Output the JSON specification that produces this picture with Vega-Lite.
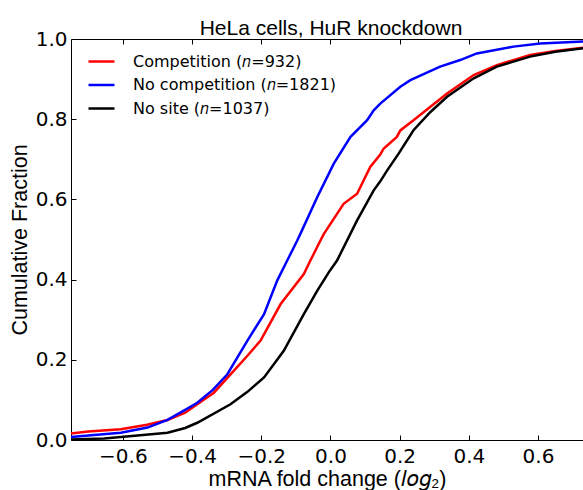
{
  "$schema": "https://vega.github.io/schema/vega-lite/v6.json",
  "width": 512,
  "height": 401,
  "autosize": {"type": "none"},
  "padding": {"left": 71, "top": 39, "right": 0, "bottom": 50},
  "background": "white",
  "title": {"text": "HeLa cells, HuR knockdown", "font": "Liberation Sans", "fontSize": 21, "fontWeight": "normal", "color": "black", "offset": -10, "dx": 4},
  "config": {
    "view": {"stroke": null},
    "axis": {
      "grid": false, "domainColor": "black", "domainWidth": 1, "tickColor": "black", "tickWidth": 1, "tickSize": -5,
      "labelFont": "DejaVu Sans", "labelFontSize": 20, "labelColor": "black",
      "titleFont": "Liberation Sans", "titleFontSize": 21.5, "titleFontWeight": "normal", "titleColor": "black"
    }
  },
  "data": {"values": [
    {"x": -0.75, "y": 0.016, "s": "Competition (𝑛=932)"},
    {"x": -0.70, "y": 0.021, "s": "Competition (𝑛=932)"},
    {"x": -0.606, "y": 0.027, "s": "Competition (𝑛=932)"},
    {"x": -0.53, "y": 0.038, "s": "Competition (𝑛=932)"},
    {"x": -0.471, "y": 0.05, "s": "Competition (𝑛=932)"},
    {"x": -0.42, "y": 0.068, "s": "Competition (𝑛=932)"},
    {"x": -0.385, "y": 0.089, "s": "Competition (𝑛=932)"},
    {"x": -0.337, "y": 0.118, "s": "Competition (𝑛=932)"},
    {"x": -0.279, "y": 0.173, "s": "Competition (𝑛=932)"},
    {"x": -0.24, "y": 0.21, "s": "Competition (𝑛=932)"},
    {"x": -0.202, "y": 0.248, "s": "Competition (𝑛=932)"},
    {"x": -0.144, "y": 0.339, "s": "Competition (𝑛=932)"},
    {"x": -0.077, "y": 0.414, "s": "Competition (𝑛=932)"},
    {"x": -0.058, "y": 0.4475, "s": "Competition (𝑛=932)"},
    {"x": -0.029, "y": 0.4975, "s": "Competition (𝑛=932)"},
    {"x": -0.019, "y": 0.514, "s": "Competition (𝑛=932)"},
    {"x": 0.038, "y": 0.589, "s": "Competition (𝑛=932)"},
    {"x": 0.077, "y": 0.614, "s": "Competition (𝑛=932)"},
    {"x": 0.115, "y": 0.681, "s": "Competition (𝑛=932)"},
    {"x": 0.144, "y": 0.712, "s": "Competition (𝑛=932)"},
    {"x": 0.154, "y": 0.727, "s": "Competition (𝑛=932)"},
    {"x": 0.192, "y": 0.756, "s": "Competition (𝑛=932)"},
    {"x": 0.202, "y": 0.772, "s": "Competition (𝑛=932)"},
    {"x": 0.24, "y": 0.7975, "s": "Competition (𝑛=932)"},
    {"x": 0.289, "y": 0.831, "s": "Competition (𝑛=932)"},
    {"x": 0.337, "y": 0.864, "s": "Competition (𝑛=932)"},
    {"x": 0.414, "y": 0.91, "s": "Competition (𝑛=932)"},
    {"x": 0.481, "y": 0.935, "s": "Competition (𝑛=932)"},
    {"x": 0.577, "y": 0.96, "s": "Competition (𝑛=932)"},
    {"x": 0.65, "y": 0.97, "s": "Competition (𝑛=932)"},
    {"x": 0.73, "y": 0.978, "s": "Competition (𝑛=932)"},
    {"x": -0.75, "y": 0.0075, "s": "No competition (𝑛=1821)"},
    {"x": -0.70, "y": 0.011, "s": "No competition (𝑛=1821)"},
    {"x": -0.606, "y": 0.018, "s": "No competition (𝑛=1821)"},
    {"x": -0.529, "y": 0.031, "s": "No competition (𝑛=1821)"},
    {"x": -0.471, "y": 0.05, "s": "No competition (𝑛=1821)"},
    {"x": -0.42, "y": 0.075, "s": "No competition (𝑛=1821)"},
    {"x": -0.385, "y": 0.093, "s": "No competition (𝑛=1821)"},
    {"x": -0.34, "y": 0.125, "s": "No competition (𝑛=1821)"},
    {"x": -0.298, "y": 0.164, "s": "No competition (𝑛=1821)"},
    {"x": -0.24, "y": 0.248, "s": "No competition (𝑛=1821)"},
    {"x": -0.192, "y": 0.314, "s": "No competition (𝑛=1821)"},
    {"x": -0.154, "y": 0.3975, "s": "No competition (𝑛=1821)"},
    {"x": -0.125, "y": 0.4475, "s": "No competition (𝑛=1821)"},
    {"x": -0.096, "y": 0.4975, "s": "No competition (𝑛=1821)"},
    {"x": -0.087, "y": 0.514, "s": "No competition (𝑛=1821)"},
    {"x": -0.038, "y": 0.606, "s": "No competition (𝑛=1821)"},
    {"x": 0.0096, "y": 0.689, "s": "No competition (𝑛=1821)"},
    {"x": 0.058, "y": 0.756, "s": "No competition (𝑛=1821)"},
    {"x": 0.106, "y": 0.7975, "s": "No competition (𝑛=1821)"},
    {"x": 0.125, "y": 0.822, "s": "No competition (𝑛=1821)"},
    {"x": 0.144, "y": 0.839, "s": "No competition (𝑛=1821)"},
    {"x": 0.202, "y": 0.881, "s": "No competition (𝑛=1821)"},
    {"x": 0.231, "y": 0.8975, "s": "No competition (𝑛=1821)"},
    {"x": 0.317, "y": 0.931, "s": "No competition (𝑛=1821)"},
    {"x": 0.375, "y": 0.9475, "s": "No competition (𝑛=1821)"},
    {"x": 0.423, "y": 0.964, "s": "No competition (𝑛=1821)"},
    {"x": 0.529, "y": 0.981, "s": "No competition (𝑛=1821)"},
    {"x": 0.606, "y": 0.989, "s": "No competition (𝑛=1821)"},
    {"x": 0.73, "y": 0.994, "s": "No competition (𝑛=1821)"},
    {"x": -0.75, "y": 0.001, "s": "No site (𝑛=1037)"},
    {"x": -0.654, "y": 0.004, "s": "No site (𝑛=1037)"},
    {"x": -0.55, "y": 0.012, "s": "No site (𝑛=1037)"},
    {"x": -0.471, "y": 0.018, "s": "No site (𝑛=1037)"},
    {"x": -0.42, "y": 0.03, "s": "No site (𝑛=1037)"},
    {"x": -0.385, "y": 0.043, "s": "No site (𝑛=1037)"},
    {"x": -0.289, "y": 0.089, "s": "No site (𝑛=1037)"},
    {"x": -0.24, "y": 0.12, "s": "No site (𝑛=1037)"},
    {"x": -0.192, "y": 0.156, "s": "No site (𝑛=1037)"},
    {"x": -0.135, "y": 0.2225, "s": "No site (𝑛=1037)"},
    {"x": -0.077, "y": 0.314, "s": "No site (𝑛=1037)"},
    {"x": -0.038, "y": 0.3725, "s": "No site (𝑛=1037)"},
    {"x": -0.005, "y": 0.418, "s": "No site (𝑛=1037)"},
    {"x": 0.019, "y": 0.4475, "s": "No site (𝑛=1037)"},
    {"x": 0.077, "y": 0.5475, "s": "No site (𝑛=1037)"},
    {"x": 0.125, "y": 0.6225, "s": "No site (𝑛=1037)"},
    {"x": 0.144, "y": 0.645, "s": "No site (𝑛=1037)"},
    {"x": 0.164, "y": 0.6725, "s": "No site (𝑛=1037)"},
    {"x": 0.197, "y": 0.714, "s": "No site (𝑛=1037)"},
    {"x": 0.24, "y": 0.7725, "s": "No site (𝑛=1037)"},
    {"x": 0.289, "y": 0.818, "s": "No site (𝑛=1037)"},
    {"x": 0.337, "y": 0.856, "s": "No site (𝑛=1037)"},
    {"x": 0.414, "y": 0.902, "s": "No site (𝑛=1037)"},
    {"x": 0.481, "y": 0.931, "s": "No site (𝑛=1037)"},
    {"x": 0.577, "y": 0.956, "s": "No site (𝑛=1037)"},
    {"x": 0.65, "y": 0.968, "s": "No site (𝑛=1037)"},
    {"x": 0.73, "y": 0.977, "s": "No site (𝑛=1037)"}
  ]},
  "layer": [
    {
      "mark": {"type": "line", "strokeWidth": 2.5, "clip": true},
      "encoding": {
        "x": {"field": "x", "type": "quantitative", "scale": {"domain": [-0.75, 0.73], "nice": false, "zero": false},
              "axis": {"orient": "bottom", "values": [-0.6, -0.4, -0.2, 0.0, 0.2, 0.4, 0.6], "format": ".1f", "labelPadding": 11, "title": "mRNA fold change (𝑙𝑜𝑔₂)", "titlePadding": 2}},
        "y": {"field": "y", "type": "quantitative", "scale": {"domain": [0, 1], "nice": false},
              "axis": {"values": [0, 0.2, 0.4, 0.6, 0.8, 1.0], "format": ".1f", "labelPadding": 9, "title": "Cumulative Fraction", "titlePadding": 4}},
        "color": {"field": "s", "type": "nominal",
                  "scale": {"domain": ["Competition (𝑛=932)", "No competition (𝑛=1821)", "No site (𝑛=1037)"], "range": ["#ff0000", "#0000ff", "#000000"]},
                  "legend": {"orient": "none", "legendX": 16, "legendY": 8, "title": null, "symbolType": "stroke", "symbolSize": 676, "symbolStrokeWidth": 2.5,
                             "labelFont": "DejaVu Sans", "labelFontSize": 16, "labelColor": "black", "labelOffset": 17, "labelLimit": 0, "rowPadding": 0.5}}
      }
    },
    {
      "mark": {"type": "rule", "opacity": 0},
      "encoding": {
        "x": {"datum": 0, "type": "quantitative", "axis": {"orient": "top", "values": [-0.6, -0.4, -0.2, 0.0, 0.2, 0.4, 0.6], "labels": false, "title": null}}
      }
    }
  ]
}
